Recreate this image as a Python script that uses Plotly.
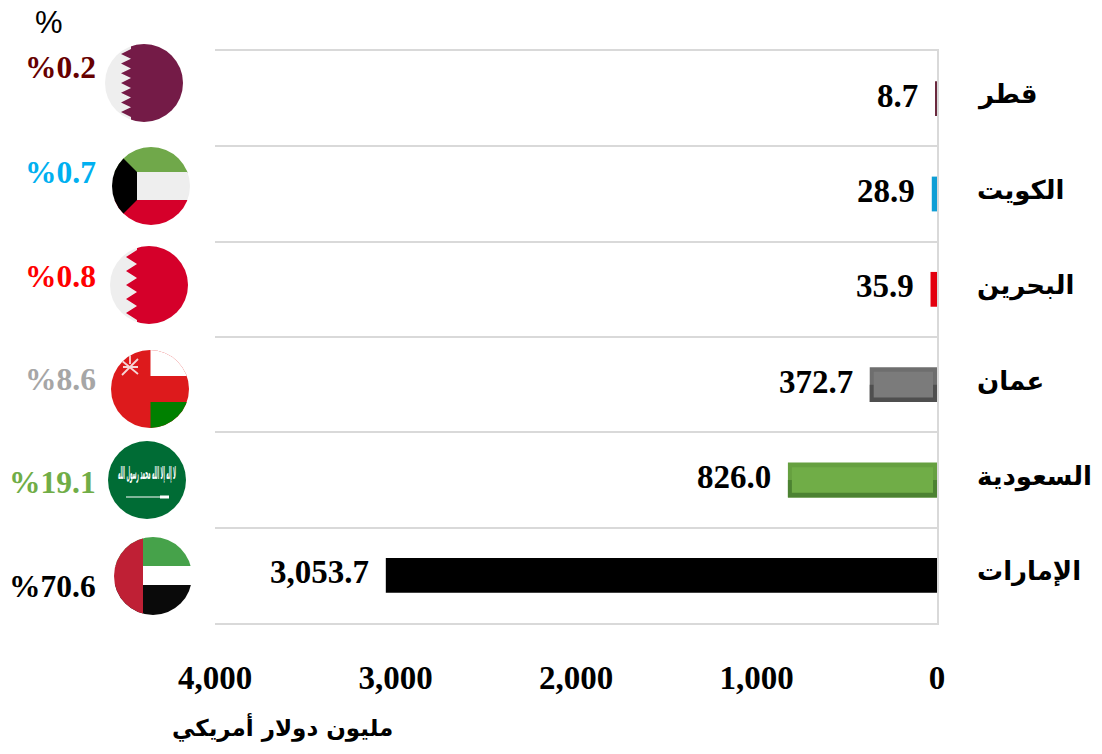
import base64
import plotly.graph_objects as go

W, H = 1102, 754
ML, MR, MT, MB = 215, 165, 51, 131

categories = ["الإمارات", "السعودية", "عمان", "البحرين", "الكويت", "قطر"]
values = [3053.7, 826.0, 372.7, 35.9, 28.9, 8.7]
shares = [70.6, 19.1, 8.6, 0.8, 0.7, 0.2]
value_labels = ["3,053.7", "826.0", "372.7", "35.9", "28.9", "8.7"]
ticks = [0, 1000, 2000, 3000, 4000]
bar_colors = ["#000000", "#66a040", "#6e6e6e", "#e3000f", "#0f9ed5", "#6b2a3f"]
lower_colors = [None, "#4c8232", "#4f4f4f", None, None, None]
inner_colors = [None, "#70ad47", "#7b7b7b", None, None, None]
share_colors = ["#000000", "#70ad47", "#a6a6a6", "#ff0000", "#00b0f0", "#660000"]
axis_title = "مليون دولار أمريكي"

NUM = "Liberation Serif"
ARA = "DejaVu Sans"
GRID = "#d9d9d9"


def paper_x(x):
    return (x - ML) / (W - ML - MR)


def paper_y(y):
    return (H - MB - y) / (H - MT - MB)


def flag(body):
    svg = (
        '<svg xmlns="http://www.w3.org/2000/svg" width="156" height="156" viewBox="0 0 78 78">'
        '<defs><clipPath id="c"><circle cx="39" cy="39" r="39"/></clipPath></defs>'
        f'<g clip-path="url(#c)">{body}</g></svg>'
    )
    return "data:image/svg+xml;base64," + base64.b64encode(svg.encode("utf-8")).decode()


def zigzag(x_in, x_out, n, top, bottom):
    step = (bottom - top) / n
    pts = [f"{x_out},0", f"{x_out},{top}"]
    for i in range(n):
        pts.append(f"{x_in},{top + step * (i + .5):.1f}")
        pts.append(f"{x_out},{top + step * (i + 1):.1f}")
    pts += [f"{x_out},78", "78,78", "78,0"]
    return " ".join(pts)


qatar = flag('<rect width="78" height="78" fill="#eeeeee"/>'
             f'<polygon fill="#741b47" points="{zigzag(16, 26, 7, 5, 73)}"/>')
kuwait = flag('<rect width="78" height="26" fill="#70a84a"/>'
              '<rect y="25" width="78" height="28" fill="#eeeeee"/>'
              '<rect y="53" width="78" height="25" fill="#d5002a"/>'
              '<polygon points="0,0 25,25 25,53 0,78" fill="#000"/>')
bahrain = flag('<rect width="78" height="78" fill="#eeeeee"/>'
               f'<polygon fill="#d5002a" points="{zigzag(16, 27, 5, 4, 74)}"/>')
oman = flag('<rect width="78" height="78" fill="#dd1a1c"/>'
            '<rect x="39.5" width="39" height="26" fill="#ffffff"/>'
            '<rect x="39.5" y="52" width="39" height="26" fill="#008000"/>'
            '<g stroke="#f6d6d6" stroke-width="1.8" fill="none">'
            '<path d="M10,10 L27,24 M27,9 L11,25 M19,5 L19,14 M12,17 L27,17"/></g>')
saudi = flag('<rect width="78" height="78" fill="#006c35"/>'
             '<text x="39" y="38" text-anchor="middle" direction="rtl" font-family="DejaVu Sans" '
             'font-weight="bold" font-size="17" fill="#ffffff" textLength="58" lengthAdjust="spacingAndGlyphs">'
             'لا إله إلا الله محمد رسول الله</text>'
             '<path d="M18,56 L58,56" stroke="#fff" stroke-width="1.2"/>'
             '<rect x="52" y="54.5" width="9" height="3" fill="#fff"/>')
uae = flag('<rect width="78" height="29" fill="#46a24a"/>'
           '<rect y="29" width="78" height="19" fill="#ffffff"/>'
           '<rect y="48" width="78" height="30" fill="#0a0a0a"/>'
           '<rect width="29" height="78" fill="#bf2035"/>')
flag_sources = [uae, saudi, oman, bahrain, kuwait, qatar]
flag_left = [114, 108, 111, 110, 112, 105]
flag_top = [537, 441, 350, 246, 147, 44]

share_y = [586, 482, 379, 276, 172, 67]

fig = go.Figure()
fig.add_bar(y=categories, x=values, orientation="h", width=0.365,
            marker=dict(color=bar_colors, line=dict(width=0)),
            hoverinfo="skip", showlegend=False)
bev_cats = [c for c, k in zip(categories, inner_colors) if k]
bev_vals = [v for v, k in zip(values, inner_colors) if k]
# darker lower half + lighter inner panel give the bevelled look of the two mid-sized bars
fig.add_bar(y=bev_cats, x=bev_vals, orientation="h", width=0.1825, offset=-0.1825,
            marker=dict(color=[k for k in lower_colors if k], line=dict(width=0)),
            hoverinfo="skip", showlegend=False)
inset = 22
fig.add_bar(y=bev_cats, x=[v - 2 * inset for v in bev_vals],
            base=inset, orientation="h", width=0.27,
            marker=dict(color=[k for k in inner_colors if k], line=dict(width=0)),
            hoverinfo="skip", showlegend=False)

ann = []
for cat, val, lab in zip(categories, values, value_labels):
    ann.append(dict(x=val, y=cat, xref="x", yref="y", text=lab, showarrow=False, xanchor="right",
                    xshift=-15, yshift=3, font=dict(family=NUM, size=33, color="#000", weight=700)))
    ann.append(dict(x=paper_x(975), y=cat, xref="paper", yref="y", text=cat, showarrow=False,
                    xanchor="left", yshift=4, font=dict(family=ARA, size=26, color="#000", weight=700)))
for share, col, y in zip(shares, share_colors, share_y):
    ann.append(dict(x=paper_x(98), y=paper_y(y), xref="paper", yref="paper", text=f"%{share:.1f}",
                    showarrow=False, xanchor="right", yanchor="middle",
                    font=dict(family=NUM, size=31.5, color=col, weight=700)))
ann.append(dict(x=paper_x(49), y=paper_y(23), xref="paper", yref="paper", text="%", showarrow=False,
                xanchor="center", yanchor="middle",
                font=dict(family="Liberation Sans", size=31, color="#000")))
ann.append(dict(x=paper_x(282), y=paper_y(727), xref="paper", yref="paper", text=axis_title, showarrow=False,
                xanchor="center", yanchor="middle",
                font=dict(family=ARA, size=23, color="#000", weight=700)))

images = [dict(source=s, xref="paper", yref="paper", x=paper_x(l), y=paper_y(t),
               sizex=78 / (W - ML - MR), sizey=78 / (H - MT - MB), xanchor="left", yanchor="top",
               sizing="stretch", layer="above")
          for s, l, t in zip(flag_sources, flag_left, flag_top)]

fig.update_layout(
    width=W, height=H, autosize=False, barmode="overlay", bargap=0.63,
    margin=dict(l=ML, r=MR, t=MT, b=MB), paper_bgcolor="#fff", plot_bgcolor="#fff",
    annotations=ann, images=images, showlegend=False,
    xaxis=dict(range=[4000, 0], tickvals=ticks, tickformat=",", showgrid=False, zeroline=False,
               ticks="outside", ticklen=24, tickcolor="rgba(0,0,0,0)",
               showline=True, linecolor=GRID, linewidth=2, mirror=True,
               tickfont=dict(family=NUM, size=33, color="#000", weight=700)),
    yaxis=dict(type="category", categoryorder="array", categoryarray=categories, side="right",
               tickson="boundaries", showgrid=True, gridcolor=GRID, gridwidth=2, showticklabels=False,
               ticks="", showline=True, linecolor=GRID, linewidth=2, zeroline=False),
)
fig.write_html("out.html", config={"displayModeBar": False},
               post_script="document.body.style.margin='0';document.body.style.overflow='hidden';")
